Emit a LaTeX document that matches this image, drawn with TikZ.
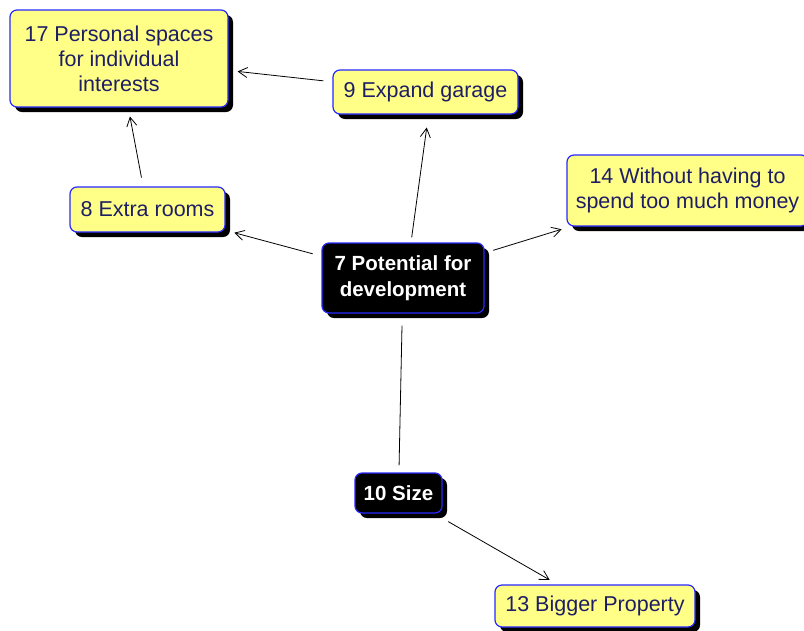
\documentclass[tikz,border=0pt]{standalone}
\usepackage{fontspec}
\setmainfont{Liberation Sans}
\usetikzlibrary{arrows.meta,shadows}
\definecolor{boxyellow}{RGB}{255,255,136}
\definecolor{boxblue}{RGB}{40,40,255}
\definecolor{labelnavy}{RGB}{30,30,100}

\tikzset{
  idea/.style={draw=boxblue, line width=1.2pt, rounded corners=7pt,
    fill=boxyellow, text=labelnavy,
    font=\fontsize{21.5}{25}\selectfont, align=center, inner sep=0pt,
    drop shadow={shadow xshift=5pt, shadow yshift=-5pt, fill=black, opacity=1}},
  core/.style={idea, fill=black, text=white,
    font=\fontsize{20.5}{26}\selectfont\bfseries},
  link/.style={line width=0.8pt, shorten <=9pt, shorten >=9pt},
  arrowlink/.style={link, -{Straight Barb[length=9pt,width=10pt]}}
}

\begin{document}
\begin{tikzpicture}[x=1pt,y=-1pt]
\useasboundingbox (0,0) rectangle (804,630);
\clip (0,0) rectangle (804,630);

% concept boxes
\node[idea, minimum width=218pt, minimum height=97pt] (n17) at (119,58.5)
  {17 Personal spaces\\for individual\\interests};
\node[idea, minimum width=185pt, minimum height=44pt] (n9) at (425.5,92)
  {9 Expand garage};
\node[idea, minimum width=155pt, minimum height=45pt] (n8) at (147.5,209.5)
  {8 Extra rooms};
\node[idea, minimum width=241pt, minimum height=71pt] (n14) at (687.5,190.5)
  {14 Without having to\\spend too much money};
\node[core, minimum width=162pt, minimum height=70pt] (n7) at (403,278)
  {7 Potential for\\development};
\node[core, minimum width=87pt, minimum height=40pt] (n10) at (398.5,493)
  {10 Size};
\node[idea, minimum width=200pt, minimum height=42pt] (n13) at (595,606)
  {13 Bigger Property};

% connectors
\draw[arrowlink] (n9) -- (n17);
\draw[arrowlink] (n8) -- (n17);
\draw[arrowlink] (n7) -- (n8);
\draw[arrowlink, shorten <=5pt, shorten >=13pt] ([xshift=8pt]n7.north) -- ([xshift=3pt]n9.south);
\draw[arrowlink] (n7) -- (n14);
\draw[link, shorten <=12pt, shorten >=7pt] (n7) -- (n10);
\draw[arrowlink, shorten <=16pt] (n10) -- (n13);
\end{tikzpicture}
\end{document}
